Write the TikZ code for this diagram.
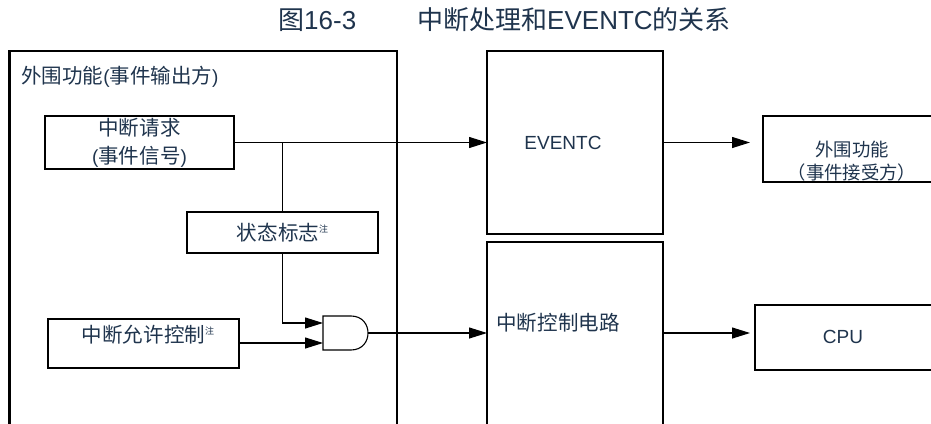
\documentclass[tikz,border=0pt]{standalone}
\usepackage{fontspec}
\setmainfont{Liberation Sans}
\newfontfamily\cjk[Scale=1.08]{Noto Sans CJK SC}
\newfontfamily\cjktitle{Noto Sans CJK SC}
\newcommand{\zh}[1]{{\cjk #1}}
\newcommand{\note}{{\fontsize{9}{9}\selectfont\raisebox{8pt}{\cjktitle 注}}}
\usetikzlibrary{arrows.meta}
\definecolor{inktext}{HTML}{1F344D}
\tikzset{
  box/.style={draw, line width=1.3pt, inner sep=0pt, outer sep=0pt, anchor=north west},
  txt/.style={text=inktext, font=\fontsize{19}{28}\selectfont, align=center, inner sep=0pt},
  wire/.style={line width=1.1pt},
  arr/.style={wire, -{Triangle[length=18pt, width=11pt]}}
}
\begin{document}
\begin{tikzpicture}[x=1pt, y=-1pt]
    \useasboundingbox (0, 0) rectangle (931, 423);
    \clip (0, 0) rectangle (931, 423);

    % title
    \node[txt, font=\fontsize{26}{30}\selectfont, anchor=west] (title) at (278, 20) {{\cjktitle 图}16-3\hspace{61pt}{\cjktitle 中断处理和}EVENTC{\cjktitle 的关系}};

    % event output side
    \node[box, line width=2.5pt, minimum width=387.5pt, minimum height=420pt] (outer) at (9.5, 51) {};
    \node[txt, anchor=west] (outerlbl) at (21, 77) {\zh{外围功能}(\zh{事件输出方})};
    \node[box, txt, minimum width=189pt, minimum height=53pt] (req) at (45, 116) {\zh{中断请求}\\(\zh{事件信号})};
    \node[box, txt, minimum width=191pt, minimum height=41pt] (flag) at (187, 212) {\zh{状态标志}\note};
    \node[box, minimum width=191pt, minimum height=49pt] (en) at (48, 319) {};
    \node[txt] (enlbl) at (148, 335) {\zh{中断允许控制}\note};

    % and gate
    \coordinate (in1) at (323, 323); \coordinate (in2) at (323, 343); \coordinate (gout) at (368, 333);
    \draw[wire] (323, 316) -- (351, 316) .. controls (373.7, 316) and (373.7, 350) .. (351, 350) -- (323, 350) -- cycle;

    % receivers
    \node[box, minimum width=176pt, minimum height=183pt] (evt) at (487, 51) {};
    \node[txt] (evtlbl) at (563, 143) {EVENTC};
    \node[box, minimum width=176pt, minimum height=240pt] (ctl) at (487, 242) {};
    \node[txt] (ctllbl) at (558, 323) {\zh{中断控制电路}};
    \node[box, minimum width=200pt, minimum height=66pt] (per) at (763, 116) {};
    \node[txt, font=\fontsize{17}{23}\selectfont] (perlbl) at (852, 161) {\zh{外围功能}\\\zh{（事件接受方）}};
    \node[box, minimum width=205pt, minimum height=65pt] (cpu) at (755, 305) {};
    \node[txt] (cpulbl) at (843, 337) {CPU};

    % connectors
    \coordinate (br) at (req.east -| flag.north);
    \draw[arr] (req.east) -- (req.east -| evt.west);
    \draw[wire] (br) -- (flag.north);
    \draw[arr] (flag.south) |- (in1);
    \draw[arr] (en.east |- in2) -- (in2);
    \draw[arr] (gout) -- (gout -| ctl.west);
    \draw[arr, shorten >=13pt] (evt.east) -- (evt.east -| per.west);
    \draw[arr, shorten >=5pt] (gout -| ctl.east) -- (gout -| cpu.west);
\end{tikzpicture}
\end{document}
